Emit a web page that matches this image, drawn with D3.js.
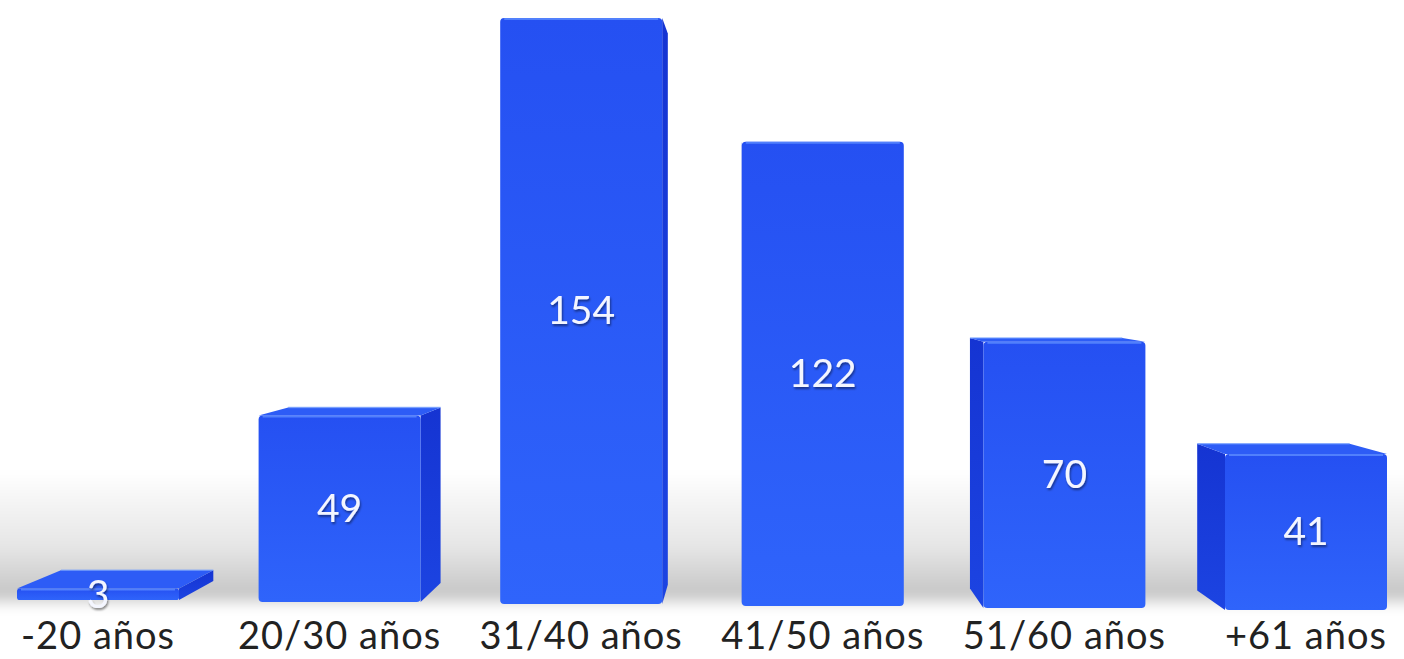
<!DOCTYPE html>
<html>
<head>
<meta charset="utf-8">
<script src="https://cdn.jsdelivr.net/npm/d3@7"></script>
<style>
  html, body { margin: 0; padding: 0; background: #fff; }
  svg { display: block; }
</style>
</head>
<body>
<svg id="chart" width="1404" height="659"></svg>
<script>
const categories = ["-20 años", "20/30 años", "31/40 años", "41/50 años", "51/60 años", "+61 años"];
const values = [3, 49, 154, 122, 70, 41];

const width = 1404, height = 659;
const barWidth = 162;
// fake perspective: vanishing point and depth factor for the back faces
const vx = 757, vy = 281, depth = 0.0594;

const svg = d3.select("#chart");
const defs = svg.append("defs");

const x = d3.scalePoint().domain(categories).range([98, 1306]);
const y = d3.scaleLinear().domain([0, 154]).range([0, 586]);
// floor tilts a touch towards the right
const base = d3.scaleLinear().domain([0, categories.length - 1]).range([600, 610]);

// gradients
const front = defs.append("linearGradient").attr("id", "front")
  .attr("x1", 0).attr("y1", 0).attr("x2", 0).attr("y2", 1);
front.append("stop").attr("offset", "0%").attr("stop-color", "#2550f2");
front.append("stop").attr("offset", "100%").attr("stop-color", "#2f64fb");

const sideGrad = defs.append("linearGradient").attr("id", "side")
  .attr("x1", 0).attr("y1", 0).attr("x2", 0).attr("y2", 1);
sideGrad.append("stop").attr("offset", "0%").attr("stop-color", "#1534d2");
sideGrad.append("stop").attr("offset", "100%").attr("stop-color", "#1c44e2");

const shadeGrad = defs.append("linearGradient").attr("id", "shade")
  .attr("x1", 0).attr("y1", 0).attr("x2", 0).attr("y2", 1);
shadeGrad.append("stop").attr("offset", "0%").attr("stop-color", "#000").attr("stop-opacity", 0);
shadeGrad.append("stop").attr("offset", "55%").attr("stop-color", "#000").attr("stop-opacity", 0.1);
shadeGrad.append("stop").attr("offset", "88%").attr("stop-color", "#000").attr("stop-opacity", 0.22);
shadeGrad.append("stop").attr("offset", "100%").attr("stop-color", "#000").attr("stop-opacity", 0);

defs.append("filter").attr("id", "blur").attr("x", "-5%").attr("y", "-30%")
  .attr("width", "110%").attr("height", "160%")
  .append("feGaussianBlur").attr("stdDeviation", 5);

const txtShadow = defs.append("filter").attr("id", "tshadow");
txtShadow.append("feDropShadow").attr("dx", 1).attr("dy", 2)
  .attr("stdDeviation", 1.2).attr("flood-color", "#000").attr("flood-opacity", 0.45);

// soft shadow band behind the bars
svg.append("rect")
  .attr("x", -20).attr("y", 470)
  .attr("width", width + 40).attr("height", 140)
  .attr("fill", "url(#shade)")
  .attr("filter", "url(#blur)");

const back = (px, py) => [px + depth * (vx - px), py + depth * (vy - py)];
const poly = pts => "M" + pts.map(p => p.join(",")).join("L") + "Z";

const bars = svg.append("g").attr("class", "bars");

categories.forEach((c, i) => {
  const xl = x(c) - barWidth / 2;
  const xr = x(c) + barWidth / 2;
  const yb = base(i);
  const yt = yb - y(values[i]);
  const g = bars.append("g");

  // side face
  const sx = xr < vx ? xr : xl;
  g.append("path")
    .attr("d", poly([[sx, yt], back(sx, yt), back(sx, yb), [sx, yb]]))
    .attr("fill", "url(#side)");

  // top face when it sits below eye level
  if (yt > vy) {
    g.append("path")
      .attr("d", poly([[xl, yt], [xr, yt], back(xr, yt), back(xl, yt)]))
      .attr("fill", "#2d5cf6");
    g.append("path")
      .attr("d", `M${back(xl, yt).join(",")}L${back(xr, yt).join(",")}`)
      .attr("stroke", "#6f9bff").attr("stroke-width", 1.5).attr("opacity", 0.7);
  }

  // front face
  g.append("rect")
    .attr("x", xl).attr("y", yt)
    .attr("width", barWidth).attr("height", yb - yt)
    .attr("rx", Math.min(4, (yb - yt) / 4))
    .attr("fill", "url(#front)");

  // light edge along the top
  g.append("line")
    .attr("x1", xl + 4).attr("x2", xr - 4)
    .attr("y1", yt + 1).attr("y2", yt + 1)
    .attr("stroke", "#5d8cff").attr("stroke-width", 2).attr("opacity", 0.8);
});

// category labels
svg.append("g").selectAll("text")
  .data(categories)
  .join("text")
  .attr("x", d => x(d))
  .attr("y", 649)
  .attr("text-anchor", "middle")
  .attr("font-family", "Lato, 'Open Sans', sans-serif")
  .attr("font-size", 38)
  .attr("letter-spacing", 1)
  .attr("fill", "#222")
  .text(d => d);

// value labels, centred on the front face
svg.append("g").selectAll("text")
  .data(values)
  .join("text")
  .attr("x", (d, i) => x(categories[i]))
  .attr("y", (d, i) => base(i) - y(d) / 2)
  .attr("dy", "0.34em")
  .attr("text-anchor", "middle")
  .attr("font-family", "Lato, 'Open Sans', sans-serif")
  .attr("font-size", 39)
  .attr("fill", "#f4f6ff")
  .attr("filter", "url(#tshadow)")
  .text(d => d);
</script>
</body>
</html>
